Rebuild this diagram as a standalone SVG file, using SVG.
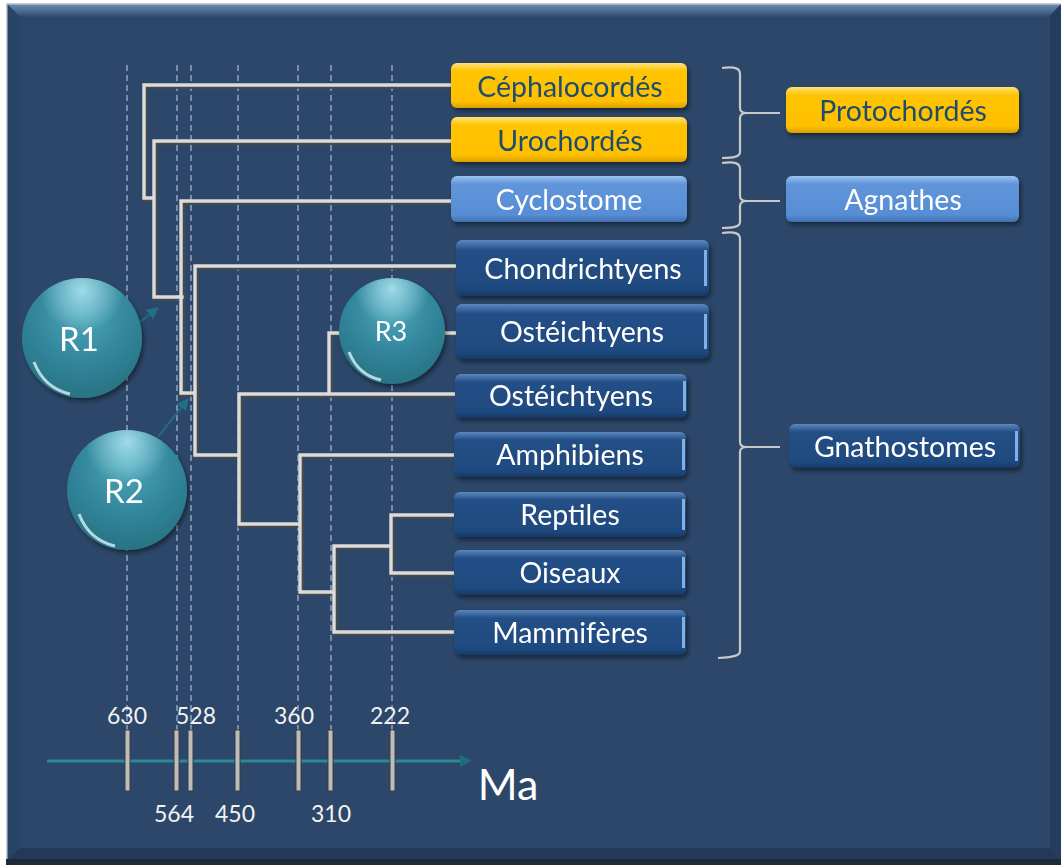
<svg xmlns="http://www.w3.org/2000/svg" xmlns:xlink="http://www.w3.org/1999/xlink" width="1061" height="865" viewBox="0 0 1061 865">
<style>
.dash{stroke:#8fa6c2;stroke-width:1.5;stroke-dasharray:6,4;fill:none}
.treeDark{stroke:#4a4a4a;stroke-width:5;fill:none;stroke-linecap:square}
.treeLight{stroke:#dcdcdc;stroke-width:3.4;fill:none;stroke-linecap:square}
.brace{stroke:#c8c8c8;stroke-width:2.2;fill:none}
.lbl{font-family:Lato,"Open Sans",sans-serif;font-size:28.5px;text-anchor:middle}
.lblY{fill:#1f4e6e}
.lblW{fill:#ffffff}
.num{font-family:Lato,"Open Sans",sans-serif;font-size:23px;fill:#f2f2f2;text-anchor:middle}
.circ{font-family:Lato,"Open Sans",sans-serif;fill:#ffffff;text-anchor:middle}
.tick{fill:#bdbdbd;stroke:#3d3d3d;stroke-width:1}
</style>
<defs>
<linearGradient id="gY" x1="0" y1="0" x2="0" y2="1">
<stop offset="0" stop-color="#ffe27a"/><stop offset="0.18" stop-color="#ffc400"/><stop offset="0.85" stop-color="#ffc000"/><stop offset="1" stop-color="#d9a000"/>
</linearGradient>
<linearGradient id="gL" x1="0" y1="0" x2="0" y2="1">
<stop offset="0" stop-color="#9cc2f0"/><stop offset="0.18" stop-color="#5f95da"/><stop offset="0.85" stop-color="#578dd4"/><stop offset="1" stop-color="#3f70b0"/>
</linearGradient>
<linearGradient id="gD" x1="0" y1="0" x2="0" y2="1">
<stop offset="0" stop-color="#5b88bf"/><stop offset="0.18" stop-color="#244f86"/><stop offset="0.85" stop-color="#1f4a80"/><stop offset="1" stop-color="#173a66"/>
</linearGradient>
<linearGradient id="gTop" x1="0" y1="0" x2="0" y2="1">
<stop offset="0" stop-color="#6f8fb5"/><stop offset="1" stop-color="#2e4a6e"/>
</linearGradient>
<radialGradient id="gC" cx="0.5" cy="0.3" r="0.75">
<stop offset="0" stop-color="#4fa6b8"/><stop offset="0.55" stop-color="#31859b"/><stop offset="1" stop-color="#27707f"/>
</radialGradient>
<radialGradient id="gHi" cx="0.5" cy="0.1" r="0.35">
<stop offset="0" stop-color="#a9e3ee" stop-opacity="0.9"/><stop offset="1" stop-color="#a9e3ee" stop-opacity="0"/>
</radialGradient>
<filter id="sh" x="-10%" y="-20%" width="120%" height="150%">
<feDropShadow dx="2" dy="3" stdDeviation="2" flood-color="#000" flood-opacity="0.45"/>
</filter>
<marker id="arr" viewBox="0 0 10 10" refX="9" refY="5" markerWidth="6" markerHeight="6" orient="auto">
<path d="M0,0 L10,5 L0,10 z" fill="#1f7080"/>
</marker>
</defs>

<!-- frame -->
<rect x="0" y="0" width="1061" height="865" fill="#ffffff"/>
<rect x="6" y="3" width="1055" height="862" fill="#1c2a3a"/>
<rect x="7" y="4" width="1054" height="855" fill="#2c4769"/>
<polygon points="7,4 1061,4 1048,17 20,17" fill="url(#gTop)"/>
<polygon points="1061,4 1061,859 1050,848 1050,17" fill="#253d5c"/>
<polygon points="7,859 1061,859 1050,848 20,848" fill="#24395a"/>
<polygon points="7,4 20,17 20,848 7,859" fill="#2a4465"/>
<rect x="6" y="3" width="1055" height="1.5" fill="#c9cfd6"/>
<rect x="6" y="3" width="1.5" height="856" fill="#c9cfd6"/>

<!-- dashed time lines -->
<g id="timelines">
<line class="dash" x1="127" y1="65" x2="127" y2="735"/>
<line class="dash" x1="177" y1="65" x2="177" y2="735"/>
<line class="dash" x1="191" y1="65" x2="191" y2="735"/>
<line class="dash" x1="238" y1="65" x2="238" y2="735"/>
<line class="dash" x1="298" y1="65" x2="298" y2="735"/>
<line class="dash" x1="331" y1="65" x2="331" y2="735"/>
<line class="dash" x1="392" y1="65" x2="392" y2="735"/>
</g>

<!-- connectors (tree) -->
<g id="connectors">
<defs>
<path id="tree" d="M451,85 H144 V198 H153 M451,141 H154 V297 H182 M451,201 H181 V393 H194 M456,266 H195 V455 H239 M455,394 H239 V524 H299 M454,455 H300 V592 H333 M454,632 H334 V546 H390 M454,515 H391 V573 H454 M329,394 V333 H340 M444,333 H456"/>
</defs>
<use xlink:href="#tree" class="treeDark" transform="translate(1.2,1.2)"/>
<use xlink:href="#tree" class="treeLight"/>
<!-- braces -->
<path class="brace" d="M722,68 C736,66 740,69 740,74 L740,108 C740,111 742,113 747,113 C742,113 740,115 740,118 L740,152 C740,156 736,158 722,158"/>
<line class="brace" x1="747" y1="113" x2="780" y2="113"/>
<path class="brace" d="M722,163 C736,161 740,164 740,169 L740,196 C740,199 742,201 747,201 C742,201 740,203 740,206 L740,222 C740,226 736,228 722,228"/>
<line class="brace" x1="747" y1="201" x2="780" y2="201"/>
<path class="brace" d="M722,233 C736,231 740,234 740,239 L740,442 C740,445 742,447 747,447 C742,447 740,449 740,452 L740,651 C740,655 736,657 718,658"/>
<line class="brace" x1="747" y1="447" x2="780" y2="447"/>
<!-- pointer arrows -->
<line x1="140" y1="322" x2="158" y2="308" stroke="#1f7080" stroke-width="2" marker-end="url(#arr)"/>
<line x1="158" y1="437" x2="188" y2="399" stroke="#1f7080" stroke-width="2" marker-end="url(#arr)"/>
</g>

<!-- time axis -->
<g id="axis">
<line x1="47" y1="761" x2="466" y2="761" stroke="#2b8a96" stroke-width="3"/>
<path d="M460,755 L472,761 L460,767 z" fill="#1f6f7a"/>
<rect class="tick" x="125" y="730" width="5" height="61"/>
<rect class="tick" x="174" y="730" width="5" height="61"/>
<rect class="tick" x="188" y="730" width="5" height="61"/>
<rect class="tick" x="235" y="730" width="5" height="61"/>
<rect class="tick" x="296" y="730" width="5" height="61"/>
<rect class="tick" x="328" y="730" width="5" height="61"/>
<rect class="tick" x="390" y="730" width="5" height="61"/>
<text class="num" x="127" y="724">630</text>
<text class="num" x="196" y="724">528</text>
<text class="num" x="294" y="724">360</text>
<text class="num" x="390" y="724">222</text>
<text class="num" x="174" y="822">564</text>
<text class="num" x="235" y="822">450</text>
<text class="num" x="331" y="822">310</text>
<text x="508" y="800" font-family="Lato,'Open Sans',sans-serif" font-size="43" fill="#ffffff" text-anchor="middle">Ma</text>
</g>

<!-- left taxa -->
<g id="cephalocordes" filter="url(#sh)"><rect x="451" y="63" width="236" height="45" rx="6" fill="url(#gY)"/><text class="lbl lblY" x="570" y="97">Céphalocordés</text></g>
<g id="urochordes" filter="url(#sh)"><rect x="451" y="117" width="236" height="45" rx="6" fill="url(#gY)"/><text class="lbl lblY" x="570" y="151">Urochordés</text></g>
<g id="cyclostome" filter="url(#sh)"><rect x="451" y="176" width="236" height="46" rx="6" fill="url(#gL)"/><text class="lbl lblW" x="569" y="210">Cyclostome</text></g>
<g id="chondrichtyens" filter="url(#sh)"><rect x="456" y="240" width="253" height="56" rx="6" fill="url(#gD)"/><rect x="704" y="250" width="3" height="36" fill="#7fb0e8"/><text class="lbl lblW" x="583" y="279">Chondrichtyens</text></g>
<g id="osteichtyens1" filter="url(#sh)"><rect x="456" y="304" width="253" height="55" rx="6" fill="url(#gD)"/><rect x="704" y="314" width="3" height="35" fill="#7fb0e8"/><text class="lbl lblW" x="582" y="342">Ostéichtyens</text></g>
<g id="osteichtyens2" filter="url(#sh)"><rect x="455" y="374" width="232" height="44" rx="6" fill="url(#gD)"/><rect x="683" y="381" width="3" height="30" fill="#7fb0e8"/><text class="lbl lblW" x="571" y="406">Ostéichtyens</text></g>
<g id="amphibiens" filter="url(#sh)"><rect x="454" y="432" width="232" height="45" rx="6" fill="url(#gD)"/><rect x="682" y="439" width="3" height="31" fill="#7fb0e8"/><text class="lbl lblW" x="570" y="465">Amphibiens</text></g>
<g id="reptiles" filter="url(#sh)"><rect x="454" y="492" width="232" height="45" rx="6" fill="url(#gD)"/><rect x="682" y="499" width="3" height="31" fill="#7fb0e8"/><text class="lbl lblW" x="570" y="525">Reptiles</text></g>
<g id="oiseaux" filter="url(#sh)"><rect x="454" y="550" width="232" height="45" rx="6" fill="url(#gD)"/><rect x="682" y="557" width="3" height="31" fill="#7fb0e8"/><text class="lbl lblW" x="570" y="583">Oiseaux</text></g>
<g id="mammiferes" filter="url(#sh)"><rect x="454" y="610" width="232" height="45" rx="6" fill="url(#gD)"/><rect x="682" y="617" width="3" height="31" fill="#7fb0e8"/><text class="lbl lblW" x="570" y="643">Mammifères</text></g>

<!-- groups -->
<g id="protochordes" filter="url(#sh)"><rect x="786" y="87" width="233" height="46" rx="6" fill="url(#gY)"/><text class="lbl lblY" x="903" y="121">Protochordés</text></g>
<g id="agnathes" filter="url(#sh)"><rect x="786" y="176" width="233" height="46" rx="6" fill="url(#gL)"/><text class="lbl lblW" x="903" y="210">Agnathes</text></g>
<g id="gnathostomes" filter="url(#sh)"><rect x="789" y="424" width="231" height="44" rx="6" fill="url(#gD)"/><rect x="1015" y="431" width="3" height="30" fill="#7fb0e8"/><text class="lbl lblW" x="905" y="457">Gnathostomes</text></g>

<!-- circles -->
<g id="R1" filter="url(#sh)"><circle cx="82" cy="338" r="60" fill="url(#gC)"/><circle cx="82" cy="338" r="60" fill="url(#gHi)"/><path d="M34,362 Q44,388 70,394" stroke="#d8f3f8" stroke-width="3" fill="none" opacity="0.8"/><text class="circ" x="79" y="351" font-size="33">R1</text></g>
<g id="R2" filter="url(#sh)"><circle cx="127" cy="490" r="60" fill="url(#gC)"/><circle cx="127" cy="490" r="60" fill="url(#gHi)"/><path d="M79,514 Q89,540 115,546" stroke="#d8f3f8" stroke-width="3" fill="none" opacity="0.8"/><text class="circ" x="124" y="503" font-size="33">R2</text></g>
<g id="R3" filter="url(#sh)"><circle cx="392" cy="331" r="53" fill="url(#gC)"/><circle cx="392" cy="331" r="53" fill="url(#gHi)"/><path d="M349,352 Q358,375 381,380" stroke="#d8f3f8" stroke-width="3" fill="none" opacity="0.8"/><text class="circ" x="391" y="341" font-size="27">R3</text></g>
</svg>
